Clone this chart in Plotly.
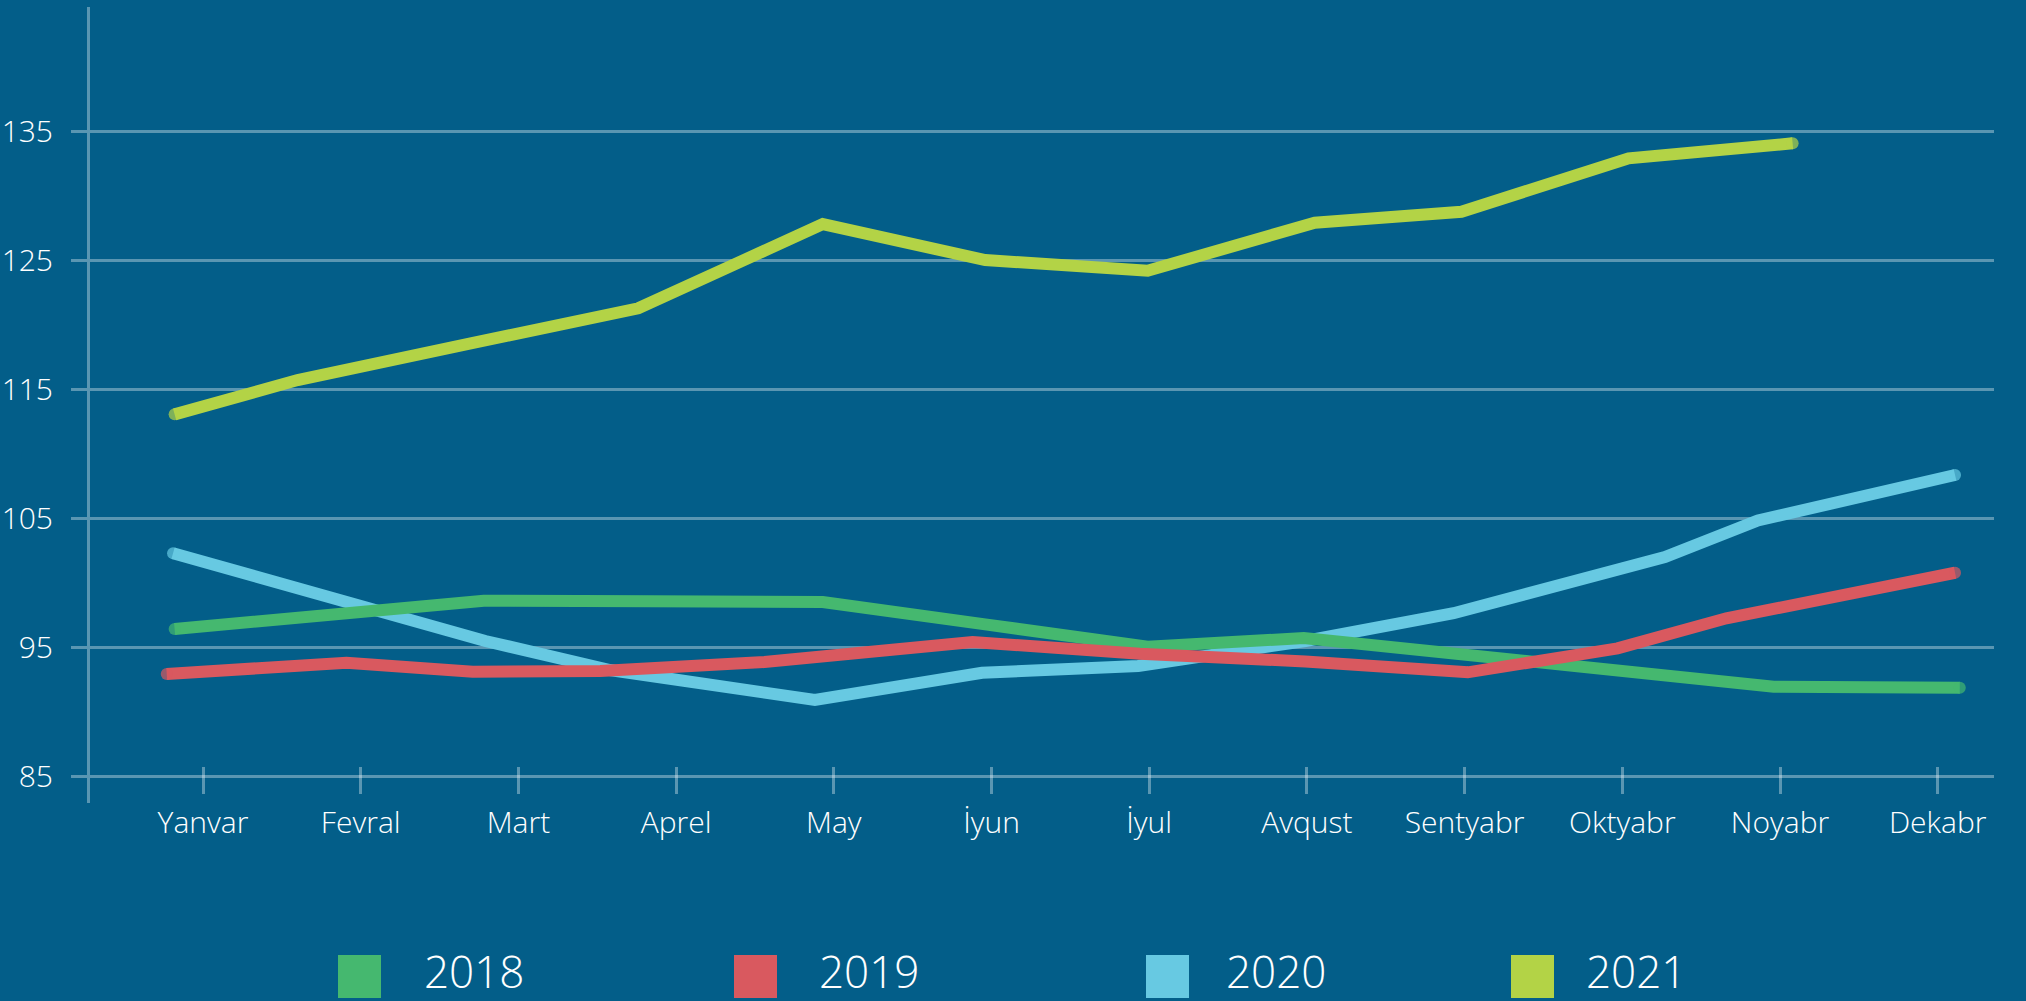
import plotly.graph_objects as go

# ---------------- data ----------------
months = ["Yanvar", "Fevral", "Mart", "Aprel", "May", "İyun",
          "İyul", "Avqust", "Sentyabr", "Oktyabr", "Noyabr", "Dekabr"]
years = ["2018", "2019", "2020", "2021"]
y_ticks = [85, 95, 105, 115, 125, 135]

# x = position along the month axis where each point was drawn (0 = Yanvar)
x_2018 = [-0.18, 0.81, 1.78, 2.84, 3.93, 4.96, 5.99, 6.98, 7.97, 8.99, 9.96, 11.14]
y_2018 = [96.45, 97.55, 98.64, 98.60, 98.54, 96.81, 95.08, 95.75, 94.49, 93.21, 91.98, 91.90]

x_2019 = [-0.23, 0.91, 1.71, 2.52, 3.56, 4.88, 5.94, 6.99, 8.02, 8.97, 9.66, 11.11]
y_2019 = [92.96, 93.84, 93.14, 93.19, 93.89, 95.44, 94.53, 93.93, 93.09, 94.95, 97.28, 100.81]

x_2020 = [-0.19, 0.93, 1.79, 2.58, 3.88, 4.94, 5.93, 6.99, 7.93, 9.27, 9.86, 11.11]
y_2020 = [102.32, 98.50, 95.52, 93.27, 90.95, 93.06, 93.58, 95.52, 97.67, 102.03, 104.86, 108.39]

x_2021 = [-0.18, 0.60, 1.69, 2.76, 3.93, 4.96, 5.99, 7.05, 7.98, 9.04, 10.08]
y_2021 = [113.09, 115.75, 118.58, 121.31, 127.84, 125.05, 124.22, 127.95, 128.80, 132.94, 134.10]

series_x = {"2018": x_2018, "2019": x_2019, "2020": x_2020, "2021": x_2021}
series_y = {"2018": y_2018, "2019": y_2019, "2020": y_2020, "2021": y_2021}

# ---------------- style ----------------
colors = {"2018": "#45B86F", "2019": "#D9595F", "2020": "#67C9E2", "2021": "#B3D346"}
BG = "#035E89"
GRID = "rgba(255,255,255,0.35)"
FONT = "Open Sans"
LW = 12

W, H = 2026, 1001
ML, MR, MT, MB = 90, 32, 7, 198
PW, PH = W - ML - MR, H - MT - MB

y_range = [82.96, 144.67]
x_range = [-0.7166, 11.357]
x_axis_value = 85.83  # where the month axis sits (tick marks span the 85 line)

fig = go.Figure()

draw_order = ["2020", "2018", "2019", "2021"]
for yr in draw_order:
    n = len(series_x[yr])
    fig.add_trace(go.Scatter(
        x=series_x[yr], y=series_y[yr], name=yr, mode="lines+markers",
        line=dict(color=colors[yr], width=LW),
        marker=dict(color=colors[yr], size=[LW] + [0] * (n - 2) + [LW], line=dict(width=0)),
        showlegend=False, hoverinfo="skip",
    ))

fig.update_layout(
    template="none",
    width=W, height=H,
    margin=dict(l=ML, r=MR, t=MT, b=MB, pad=0, autoexpand=False),
    paper_bgcolor=BG, plot_bgcolor=BG,
    showlegend=False,
    font=dict(family=FONT, color="white", size=30, weight=300),
)

fig.update_yaxes(
    range=y_range, tickvals=y_ticks, ticktext=[str(v) for v in y_ticks],
    showgrid=True, gridcolor=GRID, gridwidth=3,
    showline=True, linecolor=GRID, linewidth=3,
    ticks="outside", ticklen=16, tickwidth=3, tickcolor=GRID,
    tickfont=dict(family=FONT, size=30, color="white", weight=300),
    ticklabelstandoff=12, zeroline=False, automargin=False,
)

pos = (x_axis_value - y_range[0]) / (y_range[1] - y_range[0])
fig.update_xaxes(
    range=x_range, tickvals=list(range(len(months))), ticktext=months,
    showgrid=False, zeroline=False, showline=False,
    ticks="outside", ticklen=27, tickwidth=3, tickcolor=GRID,
    tickfont=dict(family=FONT, size=30, color="white", weight=300),
    anchor="free", position=pos, ticklabelstandoff=3, automargin=False,
)

# ---------------- legend (squares + labels below the chart) ----------------
legend_square_left = [338, 734, 1146, 1511]
legend_text_left = [422, 817, 1224, 1584]
SQ = 43
SQ_TOP = 955
TEXT_MID = 971


def px_to_paper_x(px):
    return (px - ML) / PW


def px_to_paper_y(py):
    return (H - MB - py) / PH


for i, yr in enumerate(years):
    fig.add_shape(
        type="rect", xref="paper", yref="paper",
        x0=px_to_paper_x(legend_square_left[i]), x1=px_to_paper_x(legend_square_left[i] + SQ),
        y0=px_to_paper_y(SQ_TOP + SQ), y1=px_to_paper_y(SQ_TOP),
        fillcolor=colors[yr], line=dict(width=0), layer="above",
    )
    fig.add_annotation(
        xref="paper", yref="paper",
        x=px_to_paper_x(legend_text_left[i]), y=px_to_paper_y(TEXT_MID),
        xanchor="left", yanchor="middle", showarrow=False, text=yr,
        font=dict(family=FONT, size=44, color="white", weight=300),
    )

fig.write_html(
    "out.html",
    config={"displayModeBar": False},
    post_script="document.body.style.margin='0px';document.body.style.overflow='hidden';",
)
